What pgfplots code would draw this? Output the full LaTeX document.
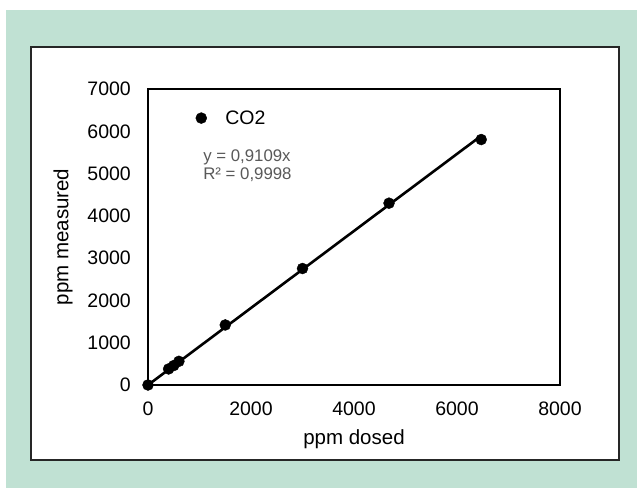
\documentclass[border=0pt]{standalone}
\usepackage{fontspec}
\setmainfont{Liberation Sans}
\usepackage{pgfplots}
\pgfplotsset{compat=1.18}
\definecolor{bgreen}{RGB}{192,225,211}
\definecolor{trendgray}{RGB}{89,89,89}

\begin{document}
\begin{tikzpicture}[x=1pt,y=1pt]
  % page frame: white margin, green panel, white chart box
  \fill[white] (0,0) rectangle (637,488);
  \fill[bgreen] (6,0) rectangle (637,478);
  \draw[fill=white, line width=1.8pt, draw=black!85] (31,28) rectangle (619,441);
  \begin{axis}[
    at={(148pt,103pt)}, anchor=south west,
    scale only axis, width=412pt, height=296pt,
    xmin=0, xmax=8000, ymin=0, ymax=7000,
    xtick={0,2000,...,8000}, ytick={0,1000,...,7000},
    major tick length=0pt,
    axis line style={line width=1.3pt},
    /pgf/number format/assume math mode=true,
    /pgf/number format/1000 sep={},
    tick label style={font=\fontsize{19.5}{22}\selectfont, inner sep=0pt},
    xticklabel style={anchor=north, yshift=-17pt},
    yticklabel style={anchor=east, xshift=-17pt},
    xlabel={ppm dosed}, ylabel={ppm measured},
    label style={font=\fontsize{20.5}{23}\selectfont},
    xlabel style={at={(axis description cs:0.5,0)}, anchor=base, yshift=-59pt},
    ylabel style={at={(axis description cs:0,0.5)}, anchor=center, yshift=85pt},
    legend style={at={(axis description cs:0.115,0.928)}, anchor=north west,
      draw=none, fill=none, inner sep=0pt,
      nodes={inner sep=0pt},
      font=\fontsize{19.5}{22}\selectfont},
    legend image code/.code={
      \path[draw=none] (-5.5pt,0) -- (24pt,0);
      \fill[black] (0,0) circle (5.5pt);},
    clip=false,
  ]
    % linear trendline through origin, y = 0.9109x
    \addplot[black, line width=2.6pt, forget plot] coordinates {(0,0) (6470,5893)};
    \addplot[only marks, mark=*, mark size=5.5pt, black] coordinates {
      (0,0) (400,380) (500,460) (600,560) (1500,1420)
      (3000,2755) (4680,4300) (6470,5805)};
    \addlegendentry{CO2}
    \node[anchor=west, inner sep=0pt, align=left, text=trendgray,
      font=\fontsize{16.8}{18}\selectfont] at (axis cs:1070,5180)
      {y = 0,9109x\\R² = 0,9998};
  \end{axis}
\end{tikzpicture}
\end{document}
